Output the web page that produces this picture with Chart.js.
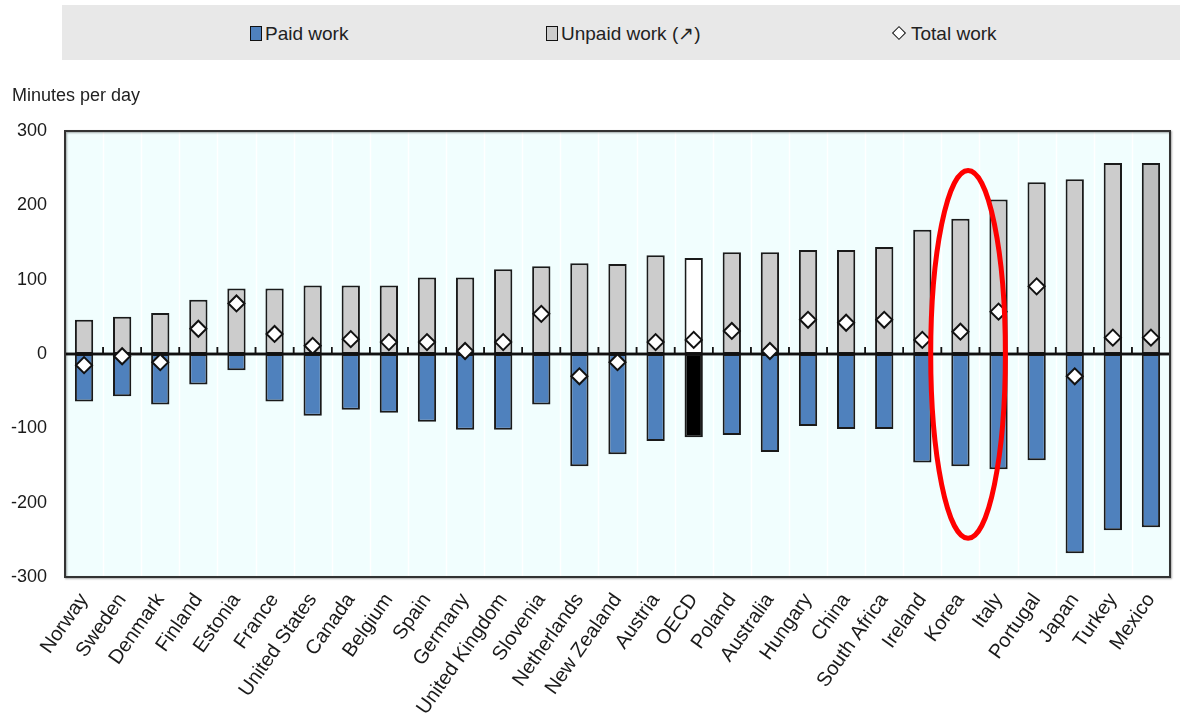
<!DOCTYPE html>
<html>
<head>
<meta charset="utf-8">
<script src="https://cdn.jsdelivr.net/npm/chart.js@4.4.1/dist/chart.umd.min.js"></script>
<style>
  body { margin: 0; background: #fff; font-family: Arial, "Liberation Sans", sans-serif; }
  #wrap { position: relative; width: 1180px; height: 728px; overflow: hidden; }
  #legend { position: absolute; left: 62px; top: 5px; width: 1118px; height: 55px; background: #e8e8e8; }
  .item { position: absolute; top: 0; height: 55px; line-height: 57px; font-size: 19px; color: #222; white-space: nowrap; }
  .sw { display: inline-block; width: 10px; height: 13px; border: 1.5px solid #111; vertical-align: -1px; margin-right: 3px; }
  .dia { display: inline-block; width: 8px; height: 8px; border: 1.5px solid #111; background: #fff; transform: rotate(45deg); vertical-align: 2px; margin-right: 7px; }
  #ytitle { position: absolute; left: 12px; top: 85px; font-size: 18px; color: #222; }
  canvas { position: absolute; left: 0; top: 0; }
</style>
</head>
<body>
<div id="wrap">
  <canvas id="chart" width="1180" height="728"></canvas>
  <div id="legend">
    <div class="item" style="left:188px"><span class="sw" style="background:#4f81bd"></span>Paid work</div>
    <div class="item" style="left:484px"><span class="sw" style="background:#cccccc"></span>Unpaid work (↗)</div>
    <div class="item" style="left:832px"><span class="dia"></span>Total work</div>
  </div>
  <div id="ytitle">Minutes per day</div>
</div>
<script>
// gender gap in minutes per day (women minus men)
var countries = ['Norway', 'Sweden', 'Denmark', 'Finland', 'Estonia', 'France', 'United States', 'Canada',
  'Belgium', 'Spain', 'Germany', 'United Kingdom', 'Slovenia', 'Netherlands', 'New Zealand', 'Austria',
  'OECD', 'Poland', 'Australia', 'Hungary', 'China', 'South Africa', 'Ireland', 'Korea', 'Italy',
  'Portugal', 'Japan', 'Turkey', 'Mexico'];

var paidWork = [-64, -57, -68, -41, -22, -64, -83, -75, -79, -91, -102, -102, -68, -151, -135, -117,
  -112, -109, -132, -97, -101, -101, -146, -151, -155, -143, -268, -237, -233];

var unpaidWork = [46, 50, 55, 73, 88, 88, 92, 92, 92, 103, 103, 114, 118, 122, 121, 133,
  129, 137, 137, 140, 140, 144, 167, 182, 208, 231, 235, 257, 257];

var totalWork = [-15, -3, -11, 34, 68, 27, 11, 20, 16, 16, 4, 16, 54, -30, -11, 16,
  19, 31, 4, 46, 42, 46, 19, 30, 57, 91, -30, 22, 22];

var yTicks = [-300, -200, -100, 0, 100, 200, 300];

// the red ring drawn round one country
var highlight = 'Korea';

var plotBg = {
  id: 'plotBg',
  beforeDatasetsDraw: function (chart) {
    var a = chart.chartArea, ctx = chart.ctx;
    ctx.save();
    ctx.fillStyle = '#f1fefe';
    ctx.fillRect(a.left, a.top, a.right - a.left, a.bottom - a.top);
    // faint white separators between countries
    var x = chart.scales.x;
    var w = x.getPixelForValue(1) - x.getPixelForValue(0);
    ctx.strokeStyle = '#ffffff';
    ctx.lineWidth = 1.5;
    for (var i = 1; i < countries.length; i++) {
      var px = Math.round(x.getPixelForValue(i) - w / 2) + 0.5;
      ctx.beginPath(); ctx.moveTo(px, a.top); ctx.lineTo(px, a.bottom); ctx.stroke();
    }
    ctx.restore();
  }
};

var zeroLine = {
  id: 'zeroLine',
  afterDatasetDraw: function (chart, args) {
    if (args.meta.type !== 'bar') return;
    var a = chart.chartArea, ctx = chart.ctx;
    var x = chart.scales.x, y = chart.scales.y;
    var y0 = y.getPixelForValue(0);
    var w = x.getPixelForValue(1) - x.getPixelForValue(0);
    ctx.save();
    ctx.strokeStyle = '#111';
    ctx.lineWidth = 2.5;
    ctx.beginPath(); ctx.moveTo(a.left, y0); ctx.lineTo(a.right, y0); ctx.stroke();
    ctx.lineWidth = 1.5;
    for (var i = 1; i < countries.length; i++) {
      var px = x.getPixelForValue(i) - w / 2;
      ctx.beginPath(); ctx.moveTo(px, y0); ctx.lineTo(px, y0 - 7); ctx.stroke();
    }
    ctx.restore();
  }
};

var frame = {
  id: 'frame',
  afterDraw: function (chart) {
    var a = chart.chartArea, ctx = chart.ctx;
    ctx.save();
    ctx.shadowColor = 'rgba(0,0,0,0.35)';
    ctx.shadowBlur = 2;
    ctx.shadowOffsetX = 1;
    ctx.shadowOffsetY = 1;
    ctx.strokeStyle = '#333';
    ctx.lineWidth = 2;
    ctx.strokeRect(a.left, a.top, a.right - a.left, a.bottom - a.top);
    ctx.restore();

    // red ellipse round the highlighted country
    var x = chart.scales.x, y = chart.scales.y;
    var idx = countries.indexOf(highlight);
    var w = x.getPixelForValue(1) - x.getPixelForValue(0);
    var cx = x.getPixelForValue(idx) + w * 0.2;
    var top = y.getPixelForValue(247), bottom = y.getPixelForValue(-248);
    ctx.save();
    ctx.strokeStyle = '#ff0000';
    ctx.lineWidth = 5;
    ctx.beginPath();
    ctx.ellipse(cx, (top + bottom) / 2, w * 0.98, (bottom - top) / 2, 0, 0, Math.PI * 2);
    ctx.stroke();
    ctx.restore();
  }
};

function paidColour(ctx) {
  return countries[ctx.dataIndex] === 'OECD' ? '#000000' : '#4f81bd';
}
function unpaidColour(ctx) {
  var c = countries[ctx.dataIndex];
  if (c === 'OECD') return '#ffffff';
  if (c === 'Mexico') return '#bdbdbd';
  return '#cccccc';
}

new Chart(document.getElementById('chart'), {
  type: 'bar',
  data: {
    labels: countries,
    datasets: [
      {
        type: 'line',
        label: 'Total work',
        data: totalWork,
        showLine: false,
        pointStyle: 'rectRot',
        pointRadius: 8,
        pointBackgroundColor: '#ffffff',
        pointBorderColor: '#111',
        pointBorderWidth: 2,
        order: 0
      },
      {
        label: 'Paid work',
        data: paidWork,
        backgroundColor: paidColour,
        borderColor: '#1a1a1a',
        borderWidth: 2,
        borderSkipped: false,
        grouped: false,
        barPercentage: 0.48,
        categoryPercentage: 1,
        order: 1
      },
      {
        label: 'Unpaid work',
        data: unpaidWork,
        backgroundColor: unpaidColour,
        borderColor: '#1a1a1a',
        borderWidth: 2,
        borderSkipped: false,
        grouped: false,
        barPercentage: 0.48,
        categoryPercentage: 1,
        order: 2
      }
    ]
  },
  options: {
    responsive: false,
    animation: false,
    devicePixelRatio: 1,
    layout: { padding: { top: 131, right: 2, left: 10, bottom: 0 } },
    plugins: {
      legend: { display: false },
      tooltip: { enabled: false }
    },
    scales: {
      x: {
        offset: true,
        grid: { display: false },
        border: { display: false },
        ticks: {
          autoSkip: false,
          minRotation: 55,
          maxRotation: 55,
          padding: 4,
          color: '#1a1a1a',
          font: { family: 'Arial, "Liberation Sans", sans-serif', size: 20 }
        },
        afterFit: function (scale) { scale.height = 151; }
      },
      y: {
        min: -300,
        max: 300,
        grid: { display: false },
        border: { display: false },
        afterBuildTicks: function (scale) {
          scale.ticks = yTicks.map(function (v) { return { value: v }; });
        },
        ticks: {
          padding: 10,
          color: '#1a1a1a',
          font: { family: 'Arial, "Liberation Sans", sans-serif', size: 18 }
        },
        afterFit: function (scale) { scale.width = 55; }
      }
    }
  },
  plugins: [plotBg, zeroLine, frame]
});
</script>
</body>
</html>
